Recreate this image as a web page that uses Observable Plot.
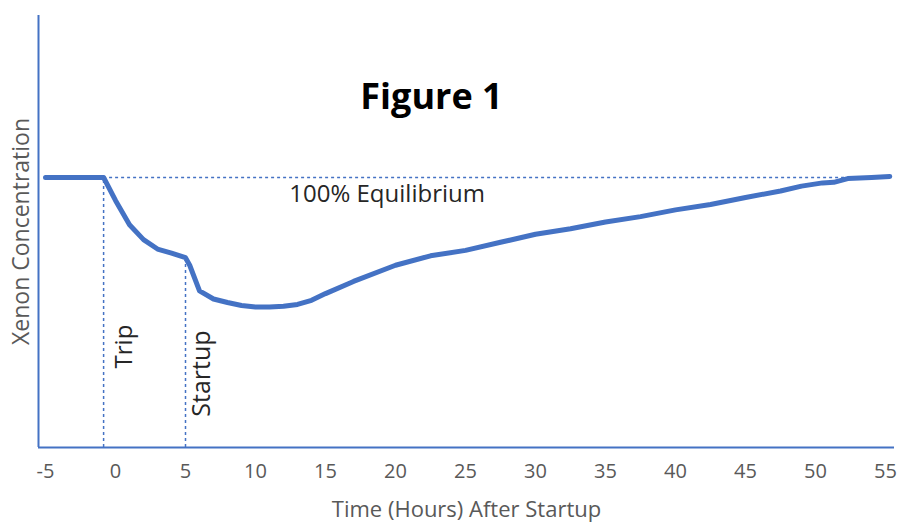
<!DOCTYPE html>
<html><head><meta charset="utf-8">
<script src="https://cdn.jsdelivr.net/npm/d3@7"></script>
<script src="https://cdn.jsdelivr.net/npm/@observablehq/plot@0.6"></script>
<style>body{margin:0;background:#fff} #chart{width:903px;height:525px}</style>
</head><body><div id="chart"></div>
<script>
// Time after startup (hours) and xenon concentration (% of equilibrium)
const hours = [-5, -0.85, 0, 1, 2, 3, 4, 5, 5.3, 6, 7, 8, 9, 10, 11, 12, 13, 14, 15, 17, 20, 22.5, 25, 27.5, 30, 32.5, 35, 37.5, 40, 42.5, 45, 47.5, 49, 50.5, 51.3, 52.3, 54, 55.3];
const xenon = [100, 100, 91.5, 82.5, 77, 73.5, 72, 70.3, 67.5, 58, 55, 53.7, 52.6, 52, 52, 52.3, 53, 54.5, 57, 61.5, 67.5, 71, 73, 76, 79, 81, 83.5, 85.5, 88, 90, 92.6, 95, 96.8, 98, 98.2, 99.6, 100, 100.4];
const xTicks = [-5, 0, 5, 10, 15, 20, 25, 30, 35, 40, 45, 50, 55];
const tripHour = -0.85;
const startupHour = 5;
const startupLevel = 70.3;
const equilibrium = 100;
const equilibriumEnd = 55.3;

const data = hours.map((h, i) => ({h, v: xenon[i]}));
const blue = "#4472c4";

const chart = Plot.plot({
  width: 903, height: 525,
  marginLeft: 38, marginRight: 9, marginTop: 15, marginBottom: 78,
  style: {fontFamily: "'Open Sans', sans-serif", fontSize: "20px", color: "#595959", background: "white", overflow: "visible"},
  x: {domain: [-5.5, 55.64], ticks: xTicks, tickSize: 0, tickPadding: 16, tickFormat: d => String(d), label: null},
  y: {domain: [0, 160], axis: null},
  marks: [
    Plot.ruleY([equilibrium], {x1: tripHour, x2: equilibriumEnd, stroke: blue, strokeWidth: 1.5, strokeDasharray: "3,3"}),
    Plot.ruleX([tripHour], {y1: 0, y2: equilibrium, stroke: blue, strokeWidth: 1.5, strokeDasharray: "3,3"}),
    Plot.ruleX([startupHour], {y1: 0, y2: startupLevel, stroke: blue, strokeWidth: 1.5, strokeDasharray: "3,3"}),
    Plot.ruleY([0], {stroke: blue, strokeWidth: 2}),
    Plot.ruleX([-5.5], {stroke: blue, strokeWidth: 2}),
    Plot.line(data, {x: "h", y: "v", stroke: blue, strokeWidth: 5, strokeLinejoin: "round", strokeLinecap: "round"}),
    Plot.text(["100% Equilibrium"], {x: 19.4, y: equilibrium, dy: 17, fontSize: 24, fill: "#262626"}),
    Plot.text(["Trip"], {x: tripHour, y: 37.4, dx: 21, rotate: -90, fontSize: 24, fill: "#262626"}),
    Plot.text(["Startup"], {x: startupHour, y: 27.4, dx: 16, rotate: -90, fontSize: 25, fill: "#262626"}),
    Plot.text(["Figure 1"], {frameAnchor: "top", dx: -35, dy: 82, lineAnchor: "middle", fontSize: 36, fontWeight: "bold", fill: "#000"}),
    Plot.text(["Xenon Concentration"], {frameAnchor: "left", dx: -17, rotate: -90, textAnchor: "middle", lineAnchor: "middle", fontSize: 23, fill: "#595959"}),
    Plot.text(["Time (Hours) After Startup"], {frameAnchor: "bottom", dy: 62, lineAnchor: "middle", fontSize: 22, fill: "#595959"})
  ]
});
document.getElementById("chart").appendChild(chart);
</script>
</body></html>
